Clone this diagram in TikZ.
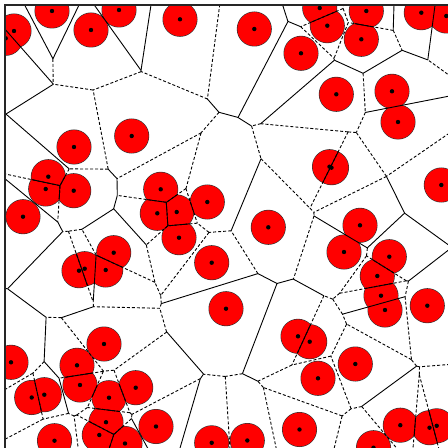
\documentclass[tikz,border=0pt]{standalone}
\begin{document}
\makeatletter
\newcount\vvN
\def\vvP#1#2{\global\advance\vvN by 1
  \expandafter\xdef\csname vvx\the\vvN\endcsname{\number#1}%
  \expandafter\xdef\csname vvy\the\vvN\endcsname{\number#2}}
\def\vvS#1#2{\expandafter\def\csname vvs-#1-#2\endcsname{}\expandafter\def\csname vvs-#2-#1\endcsname{}}
% centres, in tenths of a pixel
\vvP{520}{110}\vvP{140}{310}\vvP{57}{383}\vvP{910}{300}\vvP{1190}{100}
\vvP{1800}{193}\vvP{2543}{290}\vvP{3010}{533}\vvP{3197}{80}\vvP{3273}{257}
\vvP{3663}{110}\vvP{3613}{393}\vvP{4213}{127}\vvP{4463}{160}\vvP{3363}{943}
\vvP{3920}{913}\vvP{3980}{1220}\vvP{1317}{1360}\vvP{740}{1470}\vvP{483}{1767}
\vvP{457}{1890}\vvP{737}{1907}\vvP{230}{2167}\vvP{1607}{1893}\vvP{1573}{2133}
\vvP{1767}{2120}\vvP{2073}{2020}\vvP{1790}{2377}\vvP{2683}{2273}\vvP{2117}{2627}
\vvP{3295}{1667}\vvP{3315}{1677}\vvP{4413}{1850}\vvP{3600}{2253}\vvP{3440}{2520}
\vvP{3893}{2567}\vvP{3773}{2760}\vvP{3810}{2957}\vvP{3850}{3100}\vvP{4273}{3057}
\vvP{1137}{2527}\vvP{1057}{2700}\vvP{790}{2707}\vvP{847}{2687}\vvP{2260}{3087}
\vvP{2980}{3363}\vvP{3097}{3417}\vvP{3553}{3640}\vvP{3180}{3783}\vvP{110}{3623}
\vvP{1040}{3440}\vvP{770}{3653}\vvP{800}{3850}\vvP{317}{3975}\vvP{443}{3947}
\vvP{1090}{3977}\vvP{1357}{3877}\vvP{1060}{4222}\vvP{993}{4350}\vvP{1250}{4435}
\vvP{545}{4407}\vvP{1560}{4265}\vvP{2117}{4428}\vvP{2473}{4405}\vvP{2995}{4295}
\vvP{3735}{4477}\vvP{4003}{4252}\vvP{4295}{4277}\vvP{4367}{4258}
% edges drawn solid over their whole length
\vvS{1}{2}\vvS{1}{4}\vvS{2}{3}\vvS{3}{19}\vvS{4}{5}\vvS{5}{6}\vvS{7}{18}\vvS{7}{27}
\vvS{7}{8}\vvS{7}{9}\vvS{8}{9}\vvS{8}{27}\vvS{8}{15}\vvS{12}{15}\vvS{12}{16}\vvS{11}{13}
\vvS{13}{16}\vvS{13}{14}\vvS{16}{17}\vvS{33}{34}\vvS{32}{33}\vvS{33}{36}\vvS{34}{36}
\vvS{34}{35}\vvS{36}{40}\vvS{38}{39}\vvS{19}{20}\vvS{18}{22}\vvS{21}{23}\vvS{22}{23}
\vvS{23}{43}\vvS{43}{50}\vvS{50}{52}\vvS{52}{55}\vvS{52}{54}\vvS{53}{55}\vvS{44}{51}
\vvS{43}{51}\vvS{42}{44}\vvS{22}{41}\vvS{25}{41}\vvS{24}{41}\vvS{22}{24}\vvS{22}{25}
\vvS{27}{29}\vvS{30}{45}\vvS{29}{45}\vvS{29}{46}\vvS{35}{46}\vvS{45}{46}\vvS{45}{57}
\vvS{62}{63}\vvS{57}{63}\vvS{48}{67}\vvS{46}{64}\vvS{60}{62}
\newcount\vvi \newcount\vvj \newcount\vvk
\newcount\vvDx \newcount\vvDy \newcount\vvEx \newcount\vvEy
\newcount\vva \newcount\vvb \newcount\vvlo \newcount\vvhi \newcount\vvcap \newcount\vvT
\newcount\vvaa \newcount\vvab \newcount\vvm \newcount\vvsq \newcount\vvlc \newcount\vvhc
\newif\ifvvempty
\def\vvclip{%
  \vvEx=\numexpr\csname vvx\the\vvk\endcsname-\vvxi\relax
  \vvEy=\numexpr\csname vvy\the\vvk\endcsname-\vvyi\relax
  \vva=\numexpr 2*(\vvDx*\vvEy-\vvDy*\vvEx)\relax
  \vvb=\numexpr \vvEx*\vvEx+\vvEy*\vvEy-\vvDx*\vvEx-\vvDy*\vvEy\relax
  \vvaa=\vva \ifnum\vvaa<0 \vvaa=-\vvaa\fi
  \vvab=\vvb \ifnum\vvab<0 \vvab=-\vvab\fi
  \vvT=\numexpr\vvab*1000/\vvcap\relax
  \ifnum\vvaa>\vvT
    \vvT=\numexpr\vvb*1000/\vva\relax
    \ifnum\vva>0
      \ifnum\vvT<\vvhi \vvhi=\vvT\fi
    \else
      \ifnum\vvT>\vvlo \vvlo=\vvT\fi
    \fi
    \ifnum\vvlo<\vvhi\else\vvemptytrue\fi
  \else
    \ifnum\vvb<0 \vvemptytrue\fi
  \fi}
\def\vvloop{%
  \ifnum\vvk>\vvN \let\vvnext\relax\else
    \ifnum\vvk=\vvi\else\ifnum\vvk=\vvj\else\vvclip\fi\fi
    \ifvvempty\let\vvnext\relax\else\advance\vvk by 1 \let\vvnext\vvloop\fi
  \fi\vvnext}
\def\vvpt#1{(\the\numexpr(\vvxi+\vvxj)/2+#1*(-\vvDy)/1000\relax,\the\numexpr(\vvyi+\vvyj)/2+#1*\vvDx/1000\relax)}
\def\vvdraw{%
  \edef\vvA{\vvpt\vvlo}\edef\vvB{\vvpt\vvhi}%
  \ifcsname vvs-\the\vvi-\the\vvj\endcsname
    \draw[vedge] \vvA -- \vvB;
  \else
    \draw[vedge,vdash] \vvA -- \vvB;
    \vvsq=\numexpr\vvDx*\vvDx+\vvDy*\vvDy\relax
    \ifnum\vvsq<115600
      \edef\vvtc{\fpeval{round(1000*sqrt(28900/\the\vvsq-0.25))}}%
      \vvlc=-\vvtc\relax \ifnum\vvlc<\vvlo \vvlc=\vvlo\fi
      \vvhc=\vvtc\relax \ifnum\vvhc>\vvhi \vvhc=\vvhi\fi
      \ifnum\vvlc<\vvhc
        \edef\vvA{\vvpt\vvlc}\edef\vvB{\vvpt\vvhc}%
        \draw[vedge] \vvA -- \vvB;
      \fi
    \fi
  \fi}
\def\vvpair{%
  \edef\vvxi{\csname vvx\the\vvi\endcsname}\edef\vvyi{\csname vvy\the\vvi\endcsname}%
  \edef\vvxj{\csname vvx\the\vvj\endcsname}\edef\vvyj{\csname vvy\the\vvj\endcsname}%
  \vvDx=\numexpr\vvxj-\vvxi\relax \vvDy=\numexpr\vvyj-\vvyi\relax
  \vvm=\vvDx \ifnum\vvm<0 \vvm=-\vvm\fi
  \vvT=\vvDy \ifnum\vvT<0 \vvT=-\vvT\fi
  \ifnum\vvT>\vvm \vvm=\vvT\fi
  \ifnum\vvm>0
    \vvcap=\numexpr 7000000/\vvm\relax
    \vvlo=-\vvcap \vvhi=\vvcap
    \vvemptyfalse \vvk=1 \vvloop
    \ifvvempty\else\vvdraw\fi
  \fi}
\def\vvinner{\ifnum\vvj>\vvN\else\vvpair\advance\vvj by 1 \expandafter\vvinner\fi}
\def\vvouter{\ifnum\vvi<\vvN \vvj=\vvi \advance\vvj by 1 \vvinner\advance\vvi by 1 \expandafter\vvouter\fi}
\def\vvcircles#1{\vvk=1 \loop\ifnum\vvk>\vvN\else
  #1 (\csname vvx\the\vvk\endcsname,\csname vvy\the\vvk\endcsname) circle[radius=16.9pt];
  \advance\vvk by 1 \repeat}
\def\vvdots{\vvk=1 \loop\ifnum\vvk>\vvN\else
  \fill[black] (\csname vvx\the\vvk\endcsname,\csname vvy\the\vvk\endcsname) circle[radius=2.2pt];
  \advance\vvk by 1 \repeat}
\makeatother
\begin{tikzpicture}[x=0.1pt,y=-0.1pt,
  vedge/.style={line width=0.9pt,black},
  vdash/.style={dash pattern=on 3pt off 2pt}]
\useasboundingbox (0,0) rectangle (4480,4480);
\fill[white] (0,0) rectangle (4480,4480);
\begin{scope}
\clip (50,50) rectangle (4700,4700);
\vvcircles{\draw[black!80,line width=1.2pt]}
\vvcircles{\fill[red]}
\vvi=1 \vvouter
\vvdots
\end{scope}
\draw[black!85,line width=1.3pt] (50,4700) -- (50,50) -- (4700,50);
\end{tikzpicture}
\end{document}
